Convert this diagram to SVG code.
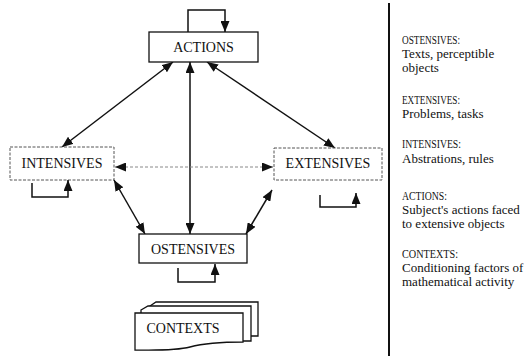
<svg xmlns="http://www.w3.org/2000/svg" width="528" height="356" viewBox="0 0 528 356">
<style>
.bx{fill:#fff;stroke:#111;stroke-width:1.3}
.dbx{fill:#fff;stroke:#555;stroke-width:1;stroke-dasharray:3 1.5}
.lbl{font-family:"Liberation Serif",serif;font-size:14px;fill:#111;text-anchor:middle}
.cn{fill:none;stroke:#111;stroke-width:1.5}
.dot{fill:none;stroke:#888;stroke-width:1;stroke-dasharray:3 2}
.lp{fill:none;stroke:#111;stroke-width:1.5}
.leg{font-family:"Liberation Serif",serif;font-size:13px;fill:#111}
</style>
<defs>
<marker id="ah" viewBox="0 0 11 9" refX="11" refY="4.5" markerWidth="11" markerHeight="9" markerUnits="userSpaceOnUse" orient="auto-start-reverse">
<path d="M0,0 L11,4.5 L0,9 Z" fill="#111"/>
</marker>
</defs>
<rect width="528" height="356" fill="#fff"/>

<g id="connectors">
<line class="cn" x1="173" y1="62" x2="62" y2="147" marker-start="url(#ah)" marker-end="url(#ah)"/>
<line class="cn" x1="207" y1="62" x2="335" y2="148" marker-start="url(#ah)" marker-end="url(#ah)"/>
<line class="cn" x1="190" y1="62" x2="190" y2="234" marker-start="url(#ah)" marker-end="url(#ah)"/>
<line class="cn" x1="114" y1="180" x2="145" y2="234" marker-start="url(#ah)" marker-end="url(#ah)"/>
<line class="cn" x1="272" y1="190" x2="246" y2="234" marker-start="url(#ah)" marker-end="url(#ah)"/>
<line class="dot" x1="115" y1="167" x2="273" y2="167" marker-start="url(#ah)" marker-end="url(#ah)"/>
</g>

<g id="actions">
<rect class="bx" x="149" y="32" width="109" height="30"/>
<text class="lbl" x="203.5" y="52">ACTIONS</text>
<path class="lp" d="M188,32 V10 H225 V32" marker-end="url(#ah)"/>
</g>

<g id="intensives">
<rect class="dbx" x="10" y="147" width="104" height="33"/>
<text class="lbl" x="62" y="168">INTENSIVES</text>
<path class="lp" d="M32,183 V197 H68 V180" marker-end="url(#ah)"/>
</g>

<g id="extensives">
<rect class="dbx" x="274" y="148" width="108" height="32"/>
<text class="lbl" x="328" y="168">EXTENSIVES</text>
<path class="lp" d="M320,195 V207 H356 V193" marker-end="url(#ah)"/>
</g>

<g id="ostensives">
<rect class="bx" x="139" y="234" width="108" height="29"/>
<text class="lbl" x="193" y="254">OSTENSIVES</text>
<path class="lp" d="M178,268 V282 H215 V264" marker-end="url(#ah)"/>
</g>

<g id="contexts">
<path class="bx" d="M150,306 L156,302 H258 V336 H150 Z"/>
<path class="bx" d="M141,310 L148,306 H251 V341 H141 Z"/>
<path class="bx" d="M135,313 H243 V342 C225,342 205,343 190,347 C175,351 150,350 135,350 Z"/>
<text class="lbl" x="183" y="333">CONTEXTS</text>
</g>

<g id="legend">
<line x1="389" y1="3" x2="389" y2="356" stroke="#111" stroke-width="2"/>
<text class="leg" x="402" y="44" textLength="58" lengthAdjust="spacingAndGlyphs">OSTENSIVES:</text>
<text class="leg" x="402" y="58">Texts, perceptible</text>
<text class="leg" x="402" y="72">objects</text>
<text class="leg" x="402" y="104" textLength="58" lengthAdjust="spacingAndGlyphs">EXTENSIVES:</text>
<text class="leg" x="402" y="118">Problems, tasks</text>
<text class="leg" x="402" y="148" textLength="59" lengthAdjust="spacingAndGlyphs">INTENSIVES:</text>
<text class="leg" x="402" y="163">Abstrations, rules</text>
<text class="leg" x="402" y="200" textLength="45" lengthAdjust="spacingAndGlyphs">ACTIONS:</text>
<text class="leg" x="402" y="214">Subject's actions faced</text>
<text class="leg" x="402" y="228">to extensive objects</text>
<text class="leg" x="402" y="258" textLength="56" lengthAdjust="spacingAndGlyphs">CONTEXTS:</text>
<text class="leg" x="402" y="272">Conditioning factors of</text>
<text class="leg" x="402" y="286">mathematical activity</text>
</g>
</svg>
